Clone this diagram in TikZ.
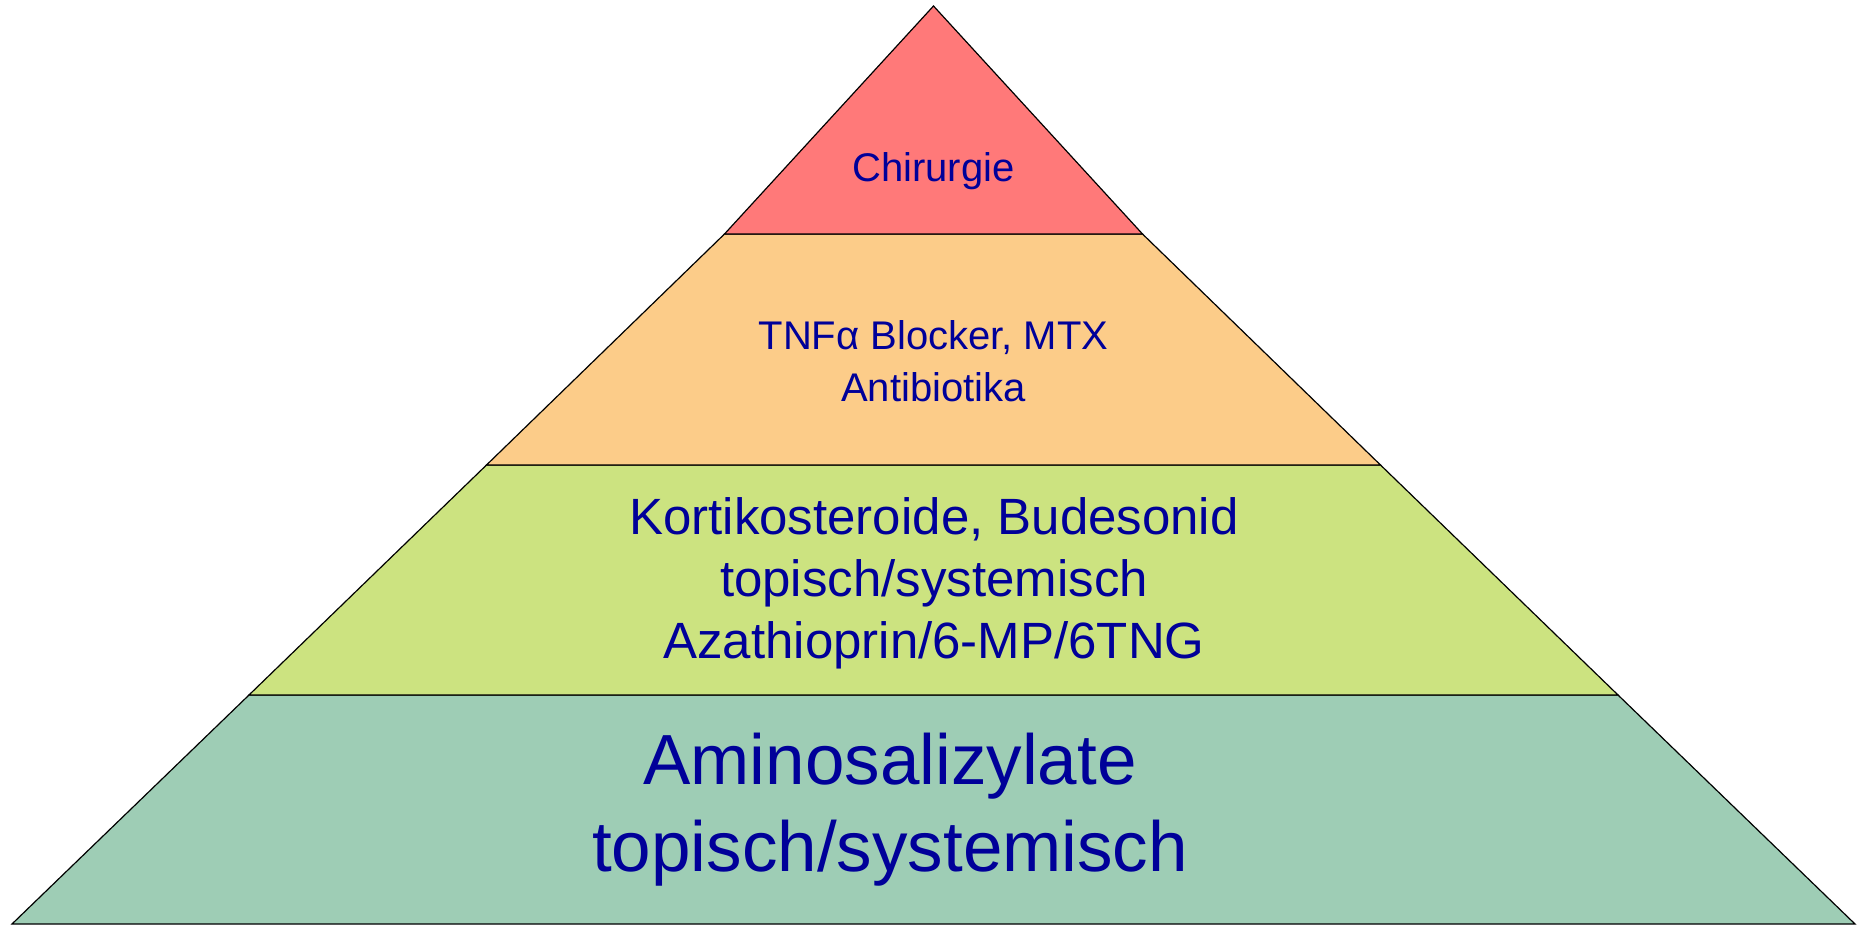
\documentclass[tikz,border=0pt]{standalone}
\usepackage{fontspec}
\setmainfont{Liberation Sans}
\usetikzlibrary{positioning}
\definecolor{redtop}{RGB}{255,121,121}
\definecolor{orangemid}{RGB}{252,204,137}
\definecolor{greenmid}{RGB}{204,227,128}
\definecolor{tealbase}{RGB}{158,205,181}
\definecolor{textblue}{RGB}{0,0,153}

\begin{document}
\begin{tikzpicture}[x=0.5pt,y=-0.5pt,
    layer/.style = {draw=black, line width=0.6pt},
    lbl/.style = {anchor=base, text=textblue, inner sep=0pt}]
  \useasboundingbox (0,0) rectangle (1858,926);
  % layers, bottom up
  \filldraw[layer, fill=tealbase] (249,695) -- (12,924) -- (1855,924) -- (1618,695) -- cycle;
  \filldraw[layer, fill=greenmid] (486.5,465) -- (249,695) -- (1618,695) -- (1380.5,465) -- cycle;
  \filldraw[layer, fill=orangemid] (724.5,234) -- (486.5,465) -- (1380.5,465) -- (1142.5,234) -- cycle;
  \filldraw[layer, fill=redtop] (933.5,6) -- (724.5,234) -- (1142.5,234) -- cycle;
  % labels
  \node[lbl, font=\fontsize{20}{24}\selectfont] (t1) at (933.5,181) {Chirurgie};
  \node[lbl, font=\fontsize{20}{24}\selectfont] (t2a) at (933.5,349) {TNFα Blocker, MTX};
  \node[lbl, font=\fontsize{20}{24}\selectfont] (t2b) at (933.5,401) {Antibiotika};
  \node[lbl, font=\fontsize{25.5}{30}\selectfont] (t3a) at (934,534) {Kortikosteroide, Budesonid};
  \node[lbl, font=\fontsize{25.5}{30}\selectfont] (t3b) at (934,596) {topisch/systemisch};
  \node[lbl, font=\fontsize{25.5}{30}\selectfont] (t3c) at (934,658) {Azathioprin/6-MP/6TNG};
  \node[lbl, font=\fontsize{35.5}{42}\selectfont] (t4a) at (890,784) {Aminosalizylate};
  \node[lbl, font=\fontsize{35.5}{42}\selectfont] (t4b) at (890,871) {topisch/systemisch};
\end{tikzpicture}
\end{document}
